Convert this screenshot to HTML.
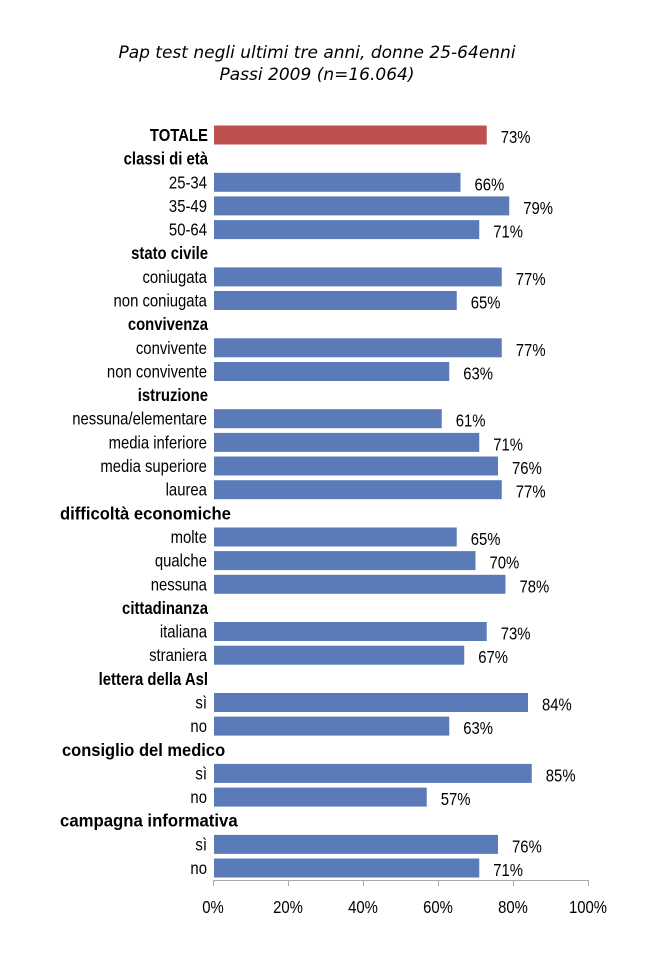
<!DOCTYPE html>
<html><head><meta charset="utf-8"><style>
html,body{margin:0;padding:0;background:#fff}
svg text{font-family:"Liberation Sans",sans-serif;font-size:17.5px;fill:#000}
svg text.t{font-family:"DejaVu Sans",sans-serif;font-style:italic;font-size:17px}
.b{font-weight:bold}
</style></head><body>
<svg width="660" height="966" xmlns="http://www.w3.org/2000/svg">
<text class="t" x="317" y="58" text-anchor="middle">Pap test negli ultimi tre anni, donne 25-64enni</text>
<text class="t" x="317" y="80" text-anchor="middle">Passi 2009 (n=16.064)</text>
<g fill="#5b7bb8">
<rect x="214" y="125.5" width="272.75" height="19" fill="#c0504d"/>
<rect x="214" y="172.8" width="246.5" height="19"/>
<rect x="214" y="196.4" width="295.25" height="19"/>
<rect x="214" y="220.1" width="265.25" height="19"/>
<rect x="214" y="267.4" width="287.75" height="19"/>
<rect x="214" y="291" width="242.75" height="19"/>
<rect x="214" y="338.3" width="287.75" height="19"/>
<rect x="214" y="362" width="235.25" height="19"/>
<rect x="214" y="409.2" width="227.75" height="19"/>
<rect x="214" y="432.9" width="265.25" height="19"/>
<rect x="214" y="456.5" width="284" height="19"/>
<rect x="214" y="480.2" width="287.75" height="19"/>
<rect x="214" y="527.5" width="242.75" height="19"/>
<rect x="214" y="551.1" width="261.5" height="19"/>
<rect x="214" y="574.8" width="291.5" height="19"/>
<rect x="214" y="622" width="272.75" height="19"/>
<rect x="214" y="645.7" width="250.25" height="19"/>
<rect x="214" y="693" width="314" height="19"/>
<rect x="214" y="716.6" width="235.25" height="19"/>
<rect x="214" y="763.9" width="317.75" height="19"/>
<rect x="214" y="787.6" width="212.75" height="19"/>
<rect x="214" y="834.9" width="284" height="19"/>
<rect x="214" y="858.5" width="265.25" height="19"/>
</g>
<line x1="213" y1="880.5" x2="589" y2="880.5" stroke="#aaa"/>
<g stroke="#aaa">
<line x1="213.5" y1="880" x2="213.5" y2="886"/><line x1="288.5" y1="880" x2="288.5" y2="886"/>
<line x1="363.5" y1="880" x2="363.5" y2="886"/><line x1="438.5" y1="880" x2="438.5" y2="886"/>
<line x1="513.5" y1="880" x2="513.5" y2="886"/><line x1="588.5" y1="880" x2="588.5" y2="886"/>
</g>
<g transform="scale(0.85,1)">
<g text-anchor="end">
<text class="b" x="244.7" y="141">TOTALE</text>
<text class="b" x="244.7" y="164.6">classi di età</text>
<text x="243.5" y="188.3">25-34</text>
<text x="243.5" y="211.9">35-49</text>
<text x="243.5" y="235.6">50-64</text>
<text class="b" x="244.7" y="259.2">stato civile</text>
<text x="243.5" y="282.9">coniugata</text>
<text x="243.5" y="306.5">non coniugata</text>
<text class="b" x="244.7" y="330.2">convivenza</text>
<text x="243.5" y="353.8">convivente</text>
<text x="243.5" y="377.5">non convivente</text>
<text class="b" x="244.7" y="401.1">istruzione</text>
<text x="243.5" y="424.7">nessuna/elementare</text>
<text x="243.5" y="448.4">media inferiore</text>
<text x="243.5" y="472">media superiore</text>
<text x="243.5" y="495.7">laurea</text>
<text x="243.5" y="543">molte</text>
<text x="243.5" y="566.6">qualche</text>
<text x="243.5" y="590.3">nessuna</text>
<text class="b" x="244.7" y="613.9">cittadinanza</text>
<text x="243.5" y="637.5">italiana</text>
<text x="243.5" y="661.2">straniera</text>
<text class="b" x="244.7" y="684.8">lettera della Asl</text>
<text x="243.5" y="708.5">sì</text>
<text x="243.5" y="732.1">no</text>
<text x="243.5" y="779.4">sì</text>
<text x="243.5" y="803.1">no</text>
<text x="243.5" y="850.4">sì</text>
<text x="243.5" y="874">no</text>
</g>
<text class="b" x="70.6" y="519.3" textLength="201" lengthAdjust="spacingAndGlyphs">difficoltà economiche</text>
<text class="b" x="72.9" y="755.8" textLength="192" lengthAdjust="spacingAndGlyphs">consiglio del medico</text>
<text class="b" x="70.6" y="826.7" textLength="209" lengthAdjust="spacingAndGlyphs">campagna informativa</text>
<text x="589.1" y="143">73%</text>
<text x="558.2" y="190.3">66%</text>
<text x="615.6" y="213.9">79%</text>
<text x="580.3" y="237.6">71%</text>
<text x="606.8" y="284.9">77%</text>
<text x="553.8" y="308.5">65%</text>
<text x="606.8" y="355.8">77%</text>
<text x="545" y="379.5">63%</text>
<text x="536.2" y="426.7">61%</text>
<text x="580.3" y="450.4">71%</text>
<text x="602.4" y="474">76%</text>
<text x="606.8" y="497.7">77%</text>
<text x="553.8" y="545">65%</text>
<text x="575.9" y="568.6">70%</text>
<text x="611.2" y="592.3">78%</text>
<text x="589.1" y="639.5">73%</text>
<text x="562.6" y="663.2">67%</text>
<text x="637.6" y="710.5">84%</text>
<text x="545" y="734.1">63%</text>
<text x="642.1" y="781.4">85%</text>
<text x="518.5" y="805.1">57%</text>
<text x="602.4" y="852.4">76%</text>
<text x="580.3" y="876">71%</text>
<g text-anchor="middle">
<text x="250.6" y="913">0%</text><text x="338.8" y="913">20%</text><text x="427.1" y="913">40%</text>
<text x="515.3" y="913">60%</text><text x="603.5" y="913">80%</text><text x="691.8" y="913">100%</text>
</g>
</g>
</svg>
</body></html>
